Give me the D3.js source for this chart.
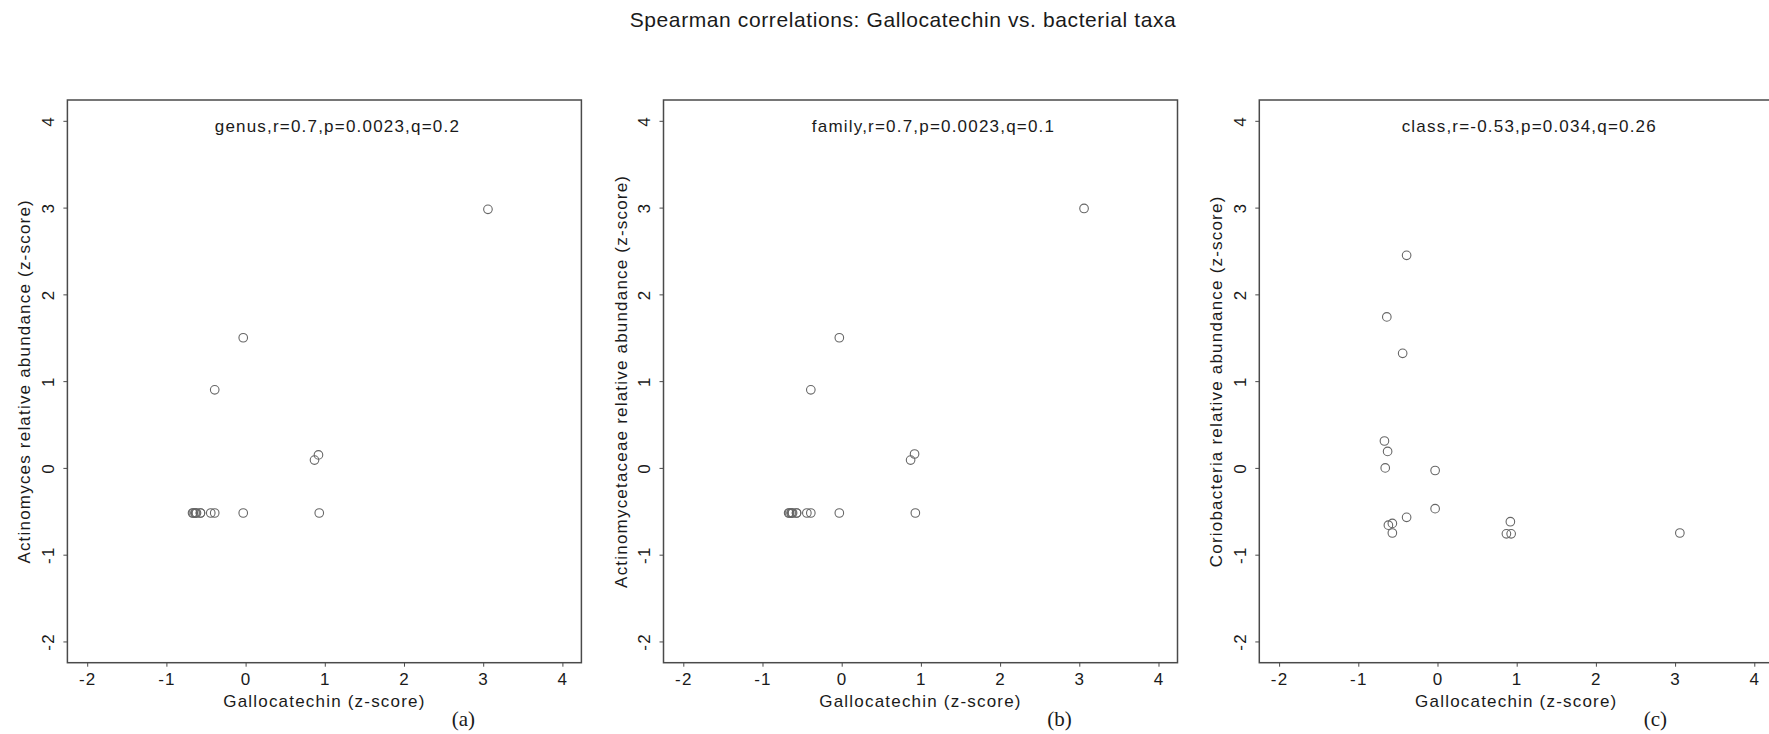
<!DOCTYPE html>
<html>
<head>
<meta charset="utf-8">
<script src="https://cdn.jsdelivr.net/npm/d3@7"></script>
<style>
  body { margin: 0; background: #fff; }
  svg { display: block; }
  text { font-family: "Liberation Sans", Arial, Helvetica, sans-serif; fill: #1a1a1a; }
</style>
</head>
<body>
<svg id="chart" width="1769" height="734"></svg>
<script>
// Gallocatechin z-scores (same samples in every panel)
var gallocatechin = [-0.39, -0.64, -0.44, -0.67, -0.63, -0.66, -0.03, -0.03,
                     -0.39, -0.57, -0.62, -0.57, 0.92, 0.87, 0.93, 3.06];
var genusVals  = [0.90, -0.52, -0.52, -0.52, -0.52, -0.52, 1.50, -0.52,
                  -0.52, -0.52, -0.52, -0.52, 0.15, 0.09, -0.52, 2.98];
var familyVals = [0.90, -0.52, -0.52, -0.52, -0.52, -0.52, 1.50, -0.52,
                  -0.52, -0.52, -0.52, -0.52, 0.16, 0.09, -0.52, 2.99];
var classVals  = [2.45, 1.74, 1.32, 0.31, 0.19, 0.00, -0.03, -0.47,
                  -0.57, -0.64, -0.66, -0.75, -0.62, -0.76, -0.76, -0.75];

var panelTitles = ["genus,r=0.7,p=0.0023,q=0.2", "family,r=0.7,p=0.0023,q=0.1", "class,r=-0.53,p=0.034,q=0.26"];
var yTitles = ["Actinomyces relative abundance (z-score)", "Actinomycetaceae relative abundance (z-score)",
               "Coriobacteria relative abundance (z-score)"];
var panelLetters = ["(a)", "(b)", "(c)"];
var series = [genusVals, familyVals, classVals];
var ticks = [-2, -1, 0, 1, 2, 3, 4];
var xTitle = "Gallocatechin (z-score)";
var mainTitle = "Spearman correlations: Gallocatechin vs. bacterial taxa";

var svg = d3.select('#chart');
var axisColor = '#4a4a4a';

svg.append('text')
  .attr('x', 903)
  .attr('y', 27)
  .attr('text-anchor', 'middle')
  .style('font-size', '21px')
  .style('letter-spacing', '0.6px')
  .text(mainTitle);

var pw = 514, plotTop = 100, plotBottom = 662.7;
var lefts = [67.4, 663.5, 1259.3];

function plain(d){ return String(d); }

series.forEach(function(vals, i){
  var left = lefts[i];
  var x = d3.scaleLinear().domain([-2.25, 4.24]).range([left, left + pw]);
  var y = d3.scaleLinear().domain([-2.245, 4.24]).range([plotBottom, plotTop]);

  var g = svg.append('g');

  // frame
  g.append('rect')
    .attr('x', left).attr('y', plotTop)
    .attr('width', pw).attr('height', plotBottom - plotTop)
    .attr('fill', 'none')
    .attr('stroke', axisColor)
    .attr('stroke-width', 1.5);

  var xa = g.append('g')
    .attr('transform', 'translate(0,' + plotBottom + ')')
    .call(d3.axisBottom(x).tickValues(ticks).tickSize(4).tickSizeOuter(0).tickFormat(plain));
  xa.select('.domain').remove();
  xa.selectAll('line').attr('stroke', axisColor);
  xa.selectAll('text')
    .attr('y', 22.3).attr('dy', 0)
    .style('font-size', '17px')
    .style('letter-spacing', '1.2px')
    .attr('fill', '#1a1a1a');

  var ya = g.append('g')
    .attr('transform', 'translate(' + left + ',0)')
    .call(d3.axisLeft(y).tickValues(ticks).tickSize(4).tickSizeOuter(0).tickFormat(plain));
  ya.select('.domain').remove();
  ya.selectAll('line').attr('stroke', axisColor);
  ya.selectAll('text')
    .attr('transform', 'rotate(-90)')
    .attr('x', 0).attr('y', -13.5).attr('dy', 0)
    .attr('text-anchor', 'middle')
    .style('font-size', '17px')
    .style('letter-spacing', '1.2px')
    .attr('fill', '#1a1a1a');

  // axis titles
  g.append('text')
    .attr('x', left + pw / 2)
    .attr('y', 707.3)
    .attr('text-anchor', 'middle')
    .style('font-size', '17px')
    .style('letter-spacing', '1.2px')
    .text(xTitle);

  g.append('text')
    .attr('transform', 'translate(' + (left - 37) + ',' + ((plotTop + plotBottom) / 2) + ') rotate(-90)')
    .attr('text-anchor', 'middle')
    .style('font-size', '17px')
    .style('letter-spacing', '1.2px')
    .text(yTitles[i]);

  g.append('text')
    .attr('x', left + pw / 2 + 13)
    .attr('y', 131.7)
    .attr('text-anchor', 'middle')
    .style('font-size', '17px')
    .style('letter-spacing', '1.2px')
    .text(panelTitles[i]);

  g.append('text')
    .attr('x', left + pw / 2 + 139)
    .attr('y', 726)
    .attr('text-anchor', 'middle')
    .style('font-family', '"Liberation Serif", "DejaVu Serif", serif')
    .style('font-size', '21px')
    .text(panelLetters[i]);

  g.selectAll('circle.pt')
    .data(vals).enter()
    .append('circle')
    .attr('class', 'pt')
    .attr('cx', function(d, k){ return x(gallocatechin[k]); })
    .attr('cy', function(d){ return y(d); })
    .attr('r', 4.3)
    .attr('fill', 'none')
    .attr('stroke', '#666')
    .attr('stroke-width', 1.1);
});
</script>
</body>
</html>
